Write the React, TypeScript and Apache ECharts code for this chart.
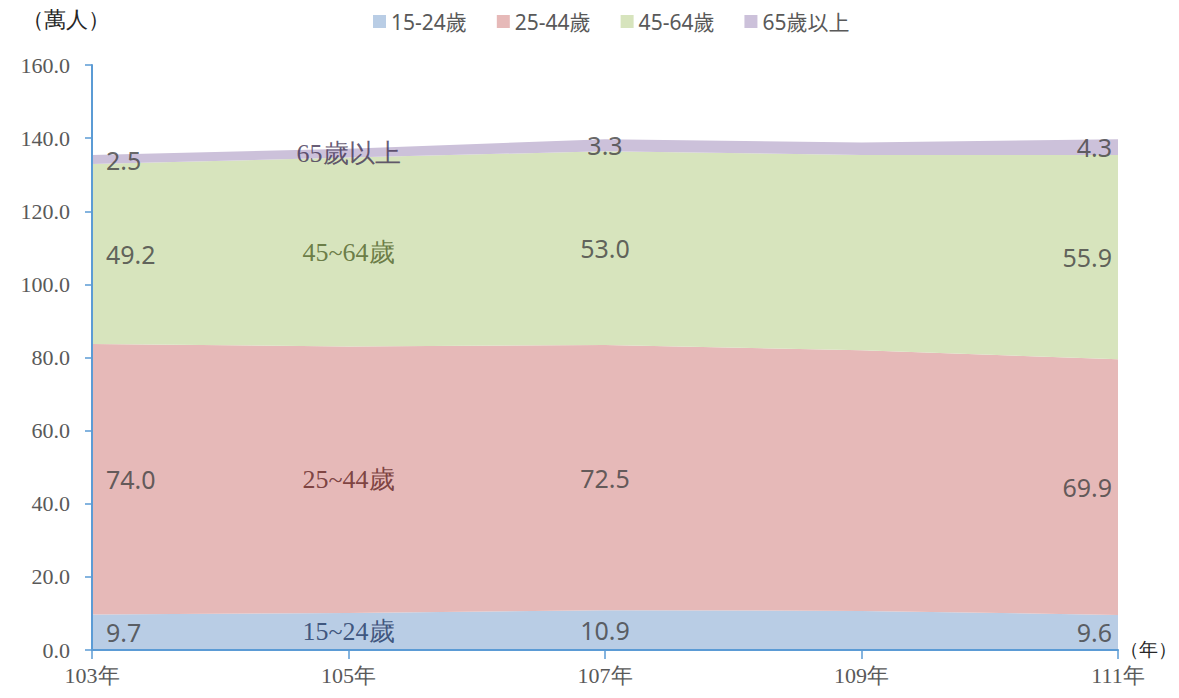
import React, { useEffect, useRef } from "react";
import * as echarts from "echarts";

const years = ["103年", "105年", "107年", "109年", "111年"];
const seriesNames = ["15-24歲", "25-44歲", "45-64歲", "65歲以上"];
const bandNames = ["15~24歲", "25~44歲", "45~64歲", "65歲以上"];
const age15_24 = [9.7, 10.1, 10.9, 10.7, 9.6];
const age25_44 = [74.0, 72.9, 72.5, 71.3, 69.9];
const age45_64 = [49.2, 51.7, 53.0, 53.4, 55.9];
const age65up = [2.5, 2.4, 3.3, 3.4, 4.3];
const yTicks = [0, 20, 40, 60, 80, 100, 120, 140, 160];

const colors = ["#b9cde5", "#e6b9b8", "#d7e4bd", "#ccc1da"];
const nameColors = ["#1f3864", "#632523", "#4f6228", "#403152"];
const SERIF = "Liberation Serif, DejaVu Serif, serif";
const SANS = "Noto Sans, Noto Sans CJK TC, sans-serif";

export default function App() {
  const ref = useRef<HTMLDivElement>(null);
  useEffect(() => {
    if (!ref.current) return;
    const chart = echarts.init(ref.current, undefined, { renderer: "svg" });
    const all = [age15_24, age25_44, age45_64, age65up];
    const labelData: any[] = [];
    all.forEach((arr, si) => {
      [0, 1, 2, 4].forEach((i) => {
        let base = 0;
        for (let k = 0; k < si; k++) base += all[k][i];
        const mid = base + arr[i] / 2;
        const isName = i === 1;
        const pos = i === 0 ? "right" : i === 4 ? "left" : "inside";
        labelData.push({
          value: [i, mid],
          label: {
            show: true,
            position: pos,
            distance: i === 0 ? 14 : 6,
            formatter: isName ? bandNames[si] : arr[i].toFixed(1),
            color: isName ? nameColors[si] : "#404040",
            fontFamily: isName ? SERIF : SANS,
            fontSize: isName ? 26 : 25,
          },
        });
      });
    });
    const areaSeries = all.map((arr, si) => ({
      name: seriesNames[si],
      type: "line",
      stack: "total",
      data: arr,
      symbol: "none",
      lineStyle: { width: 0 },
      areaStyle: { color: colors[si], opacity: 1 },
      itemStyle: { color: colors[si] },
      z: 2,
    }));
    chart.setOption({
      animation: false,
      grid: { left: 92, right: 61, top: 65, bottom: 48 },
      legend: {
        data: seriesNames,
        top: 6,
        left: 368,
        itemWidth: 13,
        itemHeight: 13,
        itemGap: 30,
        icon: "rect",
        textStyle: { fontFamily: SANS, fontSize: 21, color: "#595959" },
      },
      xAxis: {
        type: "category",
        data: years,
        boundaryGap: false,
        axisLine: { show: true, lineStyle: { color: "#5b9bd5", width: 2 } },
        axisTick: { show: true, length: 9, lineStyle: { color: "#5b9bd5", width: 1.5 } },
        axisLabel: {
          fontFamily: SERIF,
          fontSize: 22,
          color: "#595959",
          margin: 14,
        },
        splitLine: { show: false },
        z: 5,
      },
      yAxis: {
        type: "value",
        min: yTicks[0],
        max: yTicks[yTicks.length - 1],
        interval: 20,
        axisLine: { show: true, lineStyle: { color: "#5b9bd5", width: 2 } },
        axisTick: { show: true, length: 7, lineStyle: { color: "#5b9bd5", width: 1.5 } },
        axisLabel: {
          fontFamily: SERIF,
          fontSize: 22,
          color: "#595959",
          margin: 22,
          formatter: (v: number) => v.toFixed(1),
        },
        splitLine: { show: false },
        z: 5,
      },
      series: [
        ...areaSeries,
        {
          type: "scatter",
          name: "labels",
          symbolSize: 0,
          data: labelData,
          z: 10,
          silent: true,
        },
      ],
      graphic: [
        {
          type: "text",
          left: 22,
          top: 8,
          style: {
            text: "（萬人）",
            fontFamily: SERIF,
            fontSize: 22,
            fill: "#262626",
          },
        },
        {
          type: "text",
          left: 1120,
          top: 640,
          style: {
            text: "（年）",
            fontFamily: SERIF,
            fontSize: 19,
            fill: "#262626",
          },
        },
      ],
    });
    return () => chart.dispose();
  }, []);
  return <div ref={ref} style={{ width: 1179, height: 698, margin: -8 }} />;
}
